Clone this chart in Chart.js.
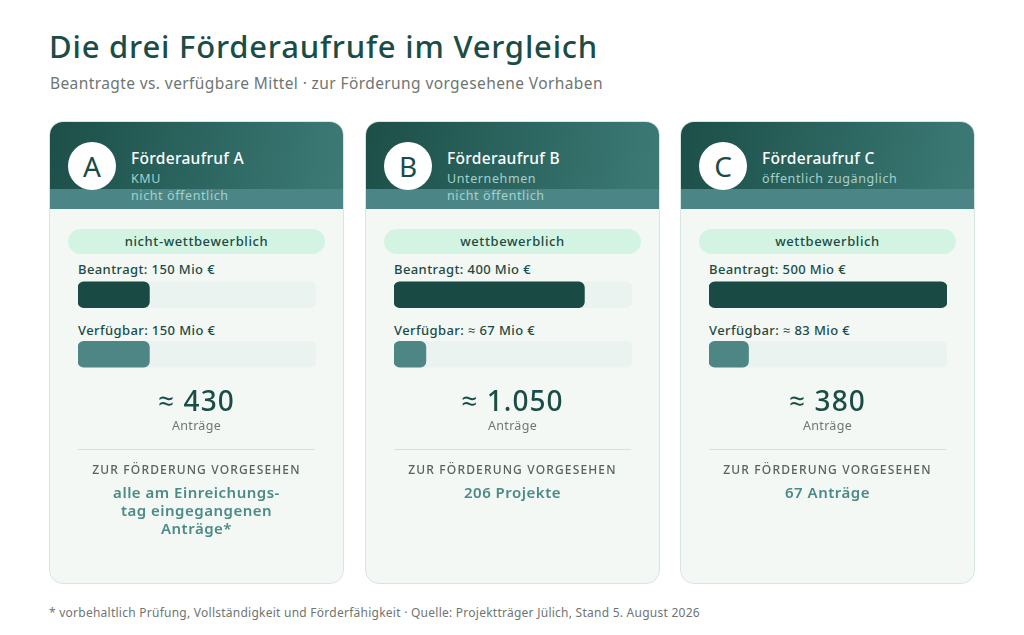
<!DOCTYPE html>
<html lang="de">
<head>
<meta charset="UTF-8">
<title>Die drei Förderaufrufe im Vergleich</title>
<script src="https://cdn.jsdelivr.net/npm/chart.js@4"></script>
<style>
  body { margin: 0; width: 1024px; height: 635px; background: #fff; font-family: 'Noto Sans', 'Open Sans', sans-serif; position: relative; overflow: hidden; }
  .title { position: absolute; left: 49px; top: 25px; font-size: 31px; font-weight: 500; color: #1b4d47; letter-spacing: 0.8px; }
  .subtitle { position: absolute; left: 50px; top: 72px; font-size: 15.5px; color: #6f7572; letter-spacing: 0.4px; }
  .card { position: absolute; top: 121px; width: 293px; height: 461px; background: #f3f8f5; border: 1px solid #d8e6e1; border-radius: 14px; overflow: hidden; }
  .head { position: absolute; left: 0; top: 0; width: 100%; height: 67px; background: linear-gradient(100deg, #1c4f48 0%, #2f6964 60%, #3d7a76 100%); }
  .band { position: absolute; left: 0; top: 67px; width: 100%; height: 20px; background: #4b8586; }
  .circle { position: absolute; left: 18px; top: 20px; width: 48px; height: 48px; border-radius: 50%; background: #fff; color: #1b4d47; font-size: 28px; line-height: 48px; text-align: center; }
  .name { position: absolute; left: 81px; top: 25px; font-size: 15.5px; font-weight: 500; color: #fff; letter-spacing: 0.3px; }
  .sub { position: absolute; left: 81px; font-size: 12.5px; color: #a6d0cb; line-height: 17px; letter-spacing: 0.6px; }
  .pill { position: absolute; left: 18px; top: 107px; width: 257px; height: 25px; border-radius: 13px; background: #d3f4e2; color: #1d4a44; font-size: 13px; font-weight: 500; line-height: 25px; text-align: center; letter-spacing: 0.6px; }
  .lbl { position: absolute; left: 28px; font-size: 13px; font-weight: 500; color: #1d4a44; line-height: 18px; letter-spacing: 0.4px; }
  .bars { position: absolute; left: 28px; top: 142.5px; width: 238px; height: 122px; }
  .big { position: absolute; left: 0; width: 100%; top: 259px; text-align: center; font-size: 28px; font-weight: 500; color: #1b4d47; line-height: 38px; letter-spacing: 1px; }
  .unit { position: absolute; left: 0; width: 100%; top: 295px; text-align: center; font-size: 12.5px; color: #6d7874; letter-spacing: 0.3px; }
  .rule { position: absolute; left: 28px; width: 237px; top: 327px; height: 1px; background: #d5e3de; }
  .cap { position: absolute; left: 0; width: 100%; top: 339px; text-align: center; font-size: 12px; font-weight: 500; color: #566360; letter-spacing: 1.15px; }
  .val { position: absolute; left: 0; width: 100%; top: 361px; text-align: center; font-size: 15px; font-weight: 600; color: #4b8a86; line-height: 18px; letter-spacing: 0.5px; }
  .foot { position: absolute; left: 49px; top: 604px; font-size: 12px; color: #6f7572; letter-spacing: 0.25px; }
</style>
</head>
<body>
<div class="title">Die drei Förderaufrufe im Vergleich</div>
<div class="subtitle">Beantragte vs. verfügbare Mittel · zur Förderung vorgesehene Vorhaben</div>
<div id="cards"></div>
<div class="foot">* vorbehaltlich Prüfung, Vollständigkeit und Förderfähigkeit · Quelle: Projektträger Jülich, Stand 5. August 2026</div>

<script>
// Daten
const letters = ['A', 'B', 'C'];
const calls = ['Förderaufruf A', 'Förderaufruf B', 'Förderaufruf C'];
const audiences = [['KMU', 'nicht öffentlich'], ['Unternehmen', 'nicht öffentlich'], ['öffentlich zugänglich']];
const modes = ['nicht-wettbewerblich', 'wettbewerblich', 'wettbewerblich'];
const barLabels = ['Beantragt', 'Verfügbar'];
const beantragt = [150, 400, 500];      // Mio €
const verfuegbar = [150, 67, 83];       // Mio €
const verfuegbarApprox = [false, true, true];
const antraege = [430, 1050, 380];
const vorgesehen = ['alle am Einreichungs-<br>tag eingegangenen<br>Anträge*', '206 Projekte', '67 Anträge'];
const axisMax = 500;

const cardLeft = [49, 365, 680];
const darkBar = '#1a4a44';
const lightBar = '#4e8585';
const track = '#eaf3ef';

const root = document.getElementById('cards');
calls.forEach((name, i) => {
  const card = document.createElement('div');
  card.className = 'card';
  card.style.left = cardLeft[i] + 'px';
  const subs = audiences[i].map((s, k) => `<div class="sub" style="top:${48 + k * 17}px">${s}</div>`).join('');
  const vText = (verfuegbarApprox[i] ? '≈ ' : '') + verfuegbar[i];
  card.innerHTML = `
    <div class="head"></div><div class="band"></div>
    <div class="circle">${letters[i]}</div>
    <div class="name">${name}</div>
    ${subs}
    <div class="pill">${modes[i]}</div>
    <div class="lbl" style="top:138px">${barLabels[0]}: ${beantragt[i]} Mio €</div>
    <div class="lbl" style="top:199px">${barLabels[1]}: ${vText} Mio €</div>
    <canvas class="bars" id="bars${i}"></canvas>
    <div class="big">≈ ${antraege[i].toLocaleString('de-DE')}</div>
    <div class="unit">Anträge</div>
    <div class="rule"></div>
    <div class="cap">ZUR FÖRDERUNG VORGESEHEN</div>
    <div class="val">${vorgesehen[i]}</div>`;
  root.appendChild(card);

  new Chart(document.getElementById('bars' + i), {
    type: 'bar',
    data: {
      labels: barLabels,
      datasets: [{
        data: [beantragt[i], verfuegbar[i]],
        backgroundColor: [darkBar, lightBar],
        borderRadius: 6,
        borderSkipped: false,
        barThickness: 26,
        grouped: false,
        order: 0
      }, {
        data: [axisMax, axisMax],
        backgroundColor: track,
        borderRadius: 6,
        borderSkipped: false,
        barThickness: 26,
        grouped: false,
        order: 1
      }]
    },
    options: {
      indexAxis: 'y',
      responsive: false,
      animation: false,
      layout: { padding: 0 },
      plugins: { legend: { display: false }, tooltip: { enabled: false } },
      scales: {
        x: { display: false, min: 0, max: axisMax },
        y: { display: false }
      }
    }
  });
});
</script>
</body>
</html>
